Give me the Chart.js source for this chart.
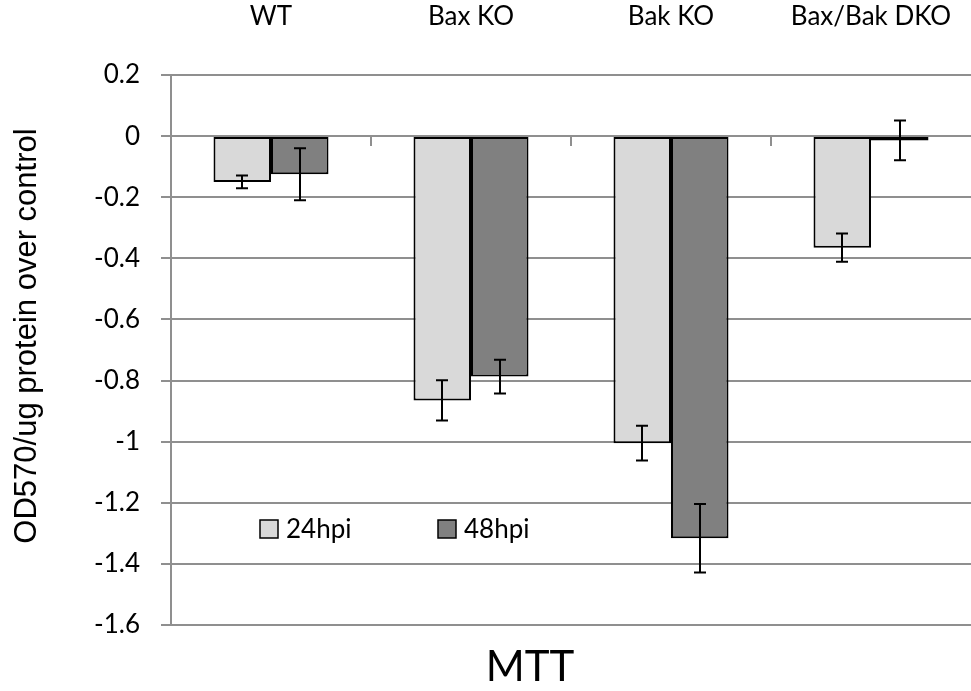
<!DOCTYPE html>
<html>
<head>
<meta charset="utf-8">
<script src="https://cdn.jsdelivr.net/npm/chart.js@4.4.0/dist/chart.umd.min.js"></script>
<style>
  html, body { margin: 0; padding: 0; background: #ffffff; }
  #wrap { width: 971px; height: 691px; }
</style>
</head>
<body>
<div id="wrap"><canvas id="c" width="971" height="691"></canvas></div>
<script>
// ---- data ----
const categories = ['WT', 'Bax KO', 'Bak KO', 'Bax/Bak DKO'];
const seriesNames = ['24hpi', '48hpi'];
const values24 = [-0.15, -0.865, -1.005, -0.365];
const values48 = [-0.125, -0.787, -1.316, -0.014];
const errors24 = [0.021, 0.066, 0.057, 0.046];
const errors48 = [0.085, 0.055, 0.112, 0.065];
const yTickValues = [0.2, 0, -0.2, -0.4, -0.6, -0.8, -1, -1.2, -1.4, -1.6];
const yTitle = 'OD570/ug protein over control';
const xTitle = 'MTT';

const seriesColors = ['#d9d9d9', '#808080'];
const seriesErrors = [errors24, errors48];
const gridColor = '#8f8f8f';
const labelFont = 'Lato';

const errorBarsPlugin = {
  id: 'errorBars',
  afterDatasetsDraw(chart) {
    const ctx = chart.ctx;
    const yScale = chart.scales.y;
    ctx.save();
    ctx.strokeStyle = '#000';
    ctx.lineWidth = 2;
    chart.data.datasets.forEach((ds, i) => {
      const meta = chart.getDatasetMeta(i);
      meta.data.forEach((bar, j) => {
        const v = ds.data[j];
        const e = seriesErrors[i][j];
        const yT = yScale.getPixelForValue(v + e);
        const yB = yScale.getPixelForValue(v - e);
        const x = Math.round(bar.x);
        ctx.beginPath();
        ctx.moveTo(x, yT); ctx.lineTo(x, yB);
        ctx.moveTo(x - 6, yT); ctx.lineTo(x + 6, yT);
        ctx.moveTo(x - 6, yB); ctx.lineTo(x + 6, yB);
        ctx.stroke();
      });
    });
    ctx.restore();
  }
};

const zeroTicksPlugin = {
  id: 'zeroTicks',
  beforeDatasetsDraw(chart) {
    const ctx = chart.ctx;
    const xs = chart.scales.x;
    const y0 = Math.round(chart.scales.y.getPixelForValue(0));
    ctx.save();
    ctx.strokeStyle = gridColor;
    ctx.lineWidth = 2;
    for (let i = 0; i < categories.length - 1; i++) {
      const x = Math.round((xs.getPixelForValue(i) + xs.getPixelForValue(i + 1)) / 2);
      ctx.beginPath();
      ctx.moveTo(x, y0);
      ctx.lineTo(x, y0 + 10);
      ctx.stroke();
    }
    ctx.restore();
  }
};

const legendAndTitlePlugin = {
  id: 'legendAndTitle',
  afterDraw(chart) {
    const ctx = chart.ctx;
    const area = chart.chartArea;
    ctx.save();
    // legend inside plot
    const ly = area.top + 454;
    chart.data.datasets.forEach((ds, i) => {
      const bx = area.left + 89 + i * 178;
      ctx.fillStyle = ds.backgroundColor;
      ctx.fillRect(bx, ly - 9, 18, 18);
      ctx.strokeStyle = '#000';
      ctx.lineWidth = 1.5;
      ctx.strokeRect(bx, ly - 9, 18, 18);
      ctx.fillStyle = '#000';
      ctx.font = '26px ' + labelFont;
      ctx.textAlign = 'left';
      ctx.textBaseline = 'middle';
      ctx.fillText(ds.label, bx + 26, ly + 1);
    });
    // bottom title
    ctx.fillStyle = '#000';
    ctx.font = '42px ' + labelFont;
    ctx.textAlign = 'center';
    ctx.textBaseline = 'middle';
    ctx.fillText(xTitle, area.left + 359, area.bottom + 42);
    // y axis title
    ctx.translate(27, area.top + 261);
    ctx.rotate(-Math.PI / 2);
    ctx.font = '31px "Liberation Sans"';
    ctx.fillText(yTitle, 0, 0);
    ctx.restore();
  }
};

new Chart(document.getElementById('c'), {
  type: 'bar',
  data: {
    labels: categories,
    datasets: [
      { label: seriesNames[0], data: values24, backgroundColor: seriesColors[0], borderColor: '#000', borderWidth: 2, borderSkipped: false },
      { label: seriesNames[1], data: values48, backgroundColor: seriesColors[1], borderColor: '#000', borderWidth: 2, borderSkipped: false }
    ]
  },
  options: {
    responsive: false,
    devicePixelRatio: 1,
    animation: false,
    datasets: { bar: { categoryPercentage: 0.575, barPercentage: 1 } },
    layout: { padding: { left: 0, right: 0, top: 0, bottom: 66 } },
    plugins: { legend: { display: false }, tooltip: { enabled: false }, title: { display: false } },
    scales: {
      x: {
        type: 'category',
        position: 'top',
        grid: { display: false },
        border: { display: false },
        ticks: { font: { family: labelFont, size: 26 }, color: '#000', padding: 35, maxRotation: 0, autoSkip: false },
        afterFit(s) { s.height = 75; s.paddingLeft = 0; s.paddingRight = 0; }
      },
      y: {
        min: -1.6,
        max: 0.2,
        afterBuildTicks(s) { s.ticks = yTickValues.map(v => ({ value: v })); },
        ticks: {
          font: { family: labelFont, size: 26 },
          color: '#000',
          padding: 21,
          callback: v => String(Math.round(v * 10) / 10)
        },
        grid: { color: gridColor, lineWidth: 2, tickLength: 10 },
        border: { color: gridColor, width: 2 },
        title: { display: false, text: yTitle },
        afterFit(s) { s.width = 171; s.paddingTop = 0; s.paddingBottom = 0; }
      }
    }
  },
  plugins: [zeroTicksPlugin, errorBarsPlugin, legendAndTitlePlugin]
});
</script>
</body>
</html>
